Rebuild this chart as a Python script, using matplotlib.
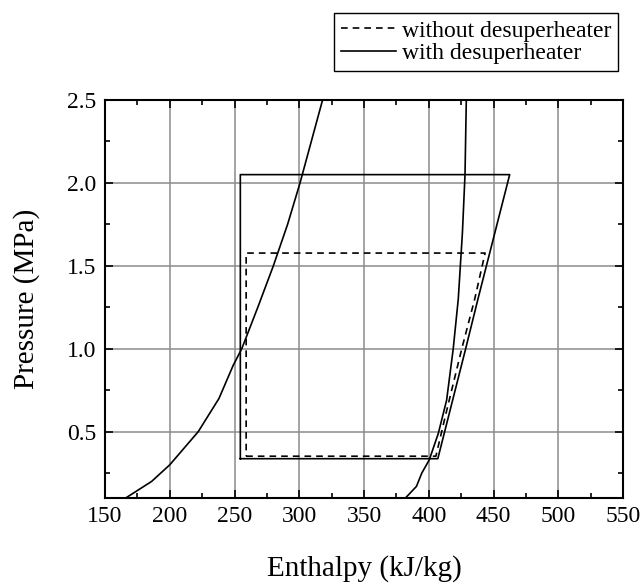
# p-h diagram, cycle with / without desuperheater
import matplotlib
matplotlib.use('Agg')
import matplotlib.pyplot as plt
from matplotlib.ticker import MultipleLocator

plt.rcParams['font.family'] = ['Liberation Serif', 'DejaVu Serif']
plt.rcParams['mathtext.fontset'] = 'stix'

# saturation dome
liq_h = [166, 176, 186, 200, 211, 222, 238, 249, 255.6, 268, 280, 291, 300.6, 318]
liq_p = [0.1, 0.15, 0.2, 0.3, 0.4, 0.5, 0.7, 0.9, 1.0, 1.25, 1.5, 1.75, 2.0, 2.5]
vap_h = [382, 390.5, 394.6, 400.4, 407.4, 413.8, 418.9, 422.8, 426, 428, 429]
vap_p = [0.1, 0.17, 0.25, 0.33, 0.49, 0.69, 1.0, 1.3, 1.7, 2.05, 2.5]

# cycle without desuperheater (dashed)
wo_h = [259, 405.5, 413, 425.5, 435.5, 443.5, 259, 259]
wo_p = [0.352, 0.352, 0.6, 1.0, 1.3, 1.577, 1.577, 0.352]

# cycle with desuperheater (solid)
w_h = [254.5, 407, 428.5, 438, 462.5, 254.5, 254.5]
w_p = [0.337, 0.337, 1.0, 1.3, 2.05, 2.05, 0.337]

fig = plt.figure(figsize=(6.43, 5.85), dpi=100)
ax = fig.add_axes([105/643, 1-498/585, 518/643, 398/585])

ax.grid(True, color='#8c8c8c', linewidth=1.1)
ax.set_axisbelow(True)

ax.plot(liq_h, liq_p, color='black', linewidth=1.2)
ax.plot(vap_h, vap_p, color='black', linewidth=1.2)
l1, = ax.plot(wo_h, wo_p, color='black', linewidth=1.2, linestyle=(0, (4, 3)))
l2, = ax.plot(w_h, w_p, color='black', linewidth=1.2)

ax.set_xlim(150, 550)
ax.set_ylim(0.1, 2.5)
ax.xaxis.set_major_locator(MultipleLocator(50))
ax.xaxis.set_minor_locator(MultipleLocator(25))
ax.set_yticks([0.5, 1.0, 1.5, 2.0, 2.5])
ax.set_yticklabels(['0.5', '1.0', '1.5', '2.0', '2.5'])
ax.set_yticks([0.25, 0.75, 1.25, 1.75, 2.25], minor=True)

ax.tick_params(which='both', direction='in', top=True, right=True,
               labelsize=17, width=1.2)
ax.tick_params(which='major', length=5.5, pad=6)
ax.tick_params(which='minor', length=3.5)
for s in ax.spines.values():
    s.set_linewidth(1.5)

ax.set_xlabel('Enthalpy (kJ/kg)', fontsize=21, labelpad=20)
ax.set_ylabel('Pressure (MPa)', fontsize=21, labelpad=20)

leg = fig.legend([l1, l2], ['without desuperheater', 'with desuperheater'],
                 loc='upper right', bbox_to_anchor=(618/643, 1-13/585),
                 fontsize=17, frameon=True, fancybox=False, framealpha=1,
                 edgecolor='black', borderaxespad=0, handlelength=2.3,
                 handletextpad=0.25, borderpad=0.3, labelspacing=0.05)
leg.get_frame().set_linewidth(1.0)

fig.savefig('out.png', dpi=100)
